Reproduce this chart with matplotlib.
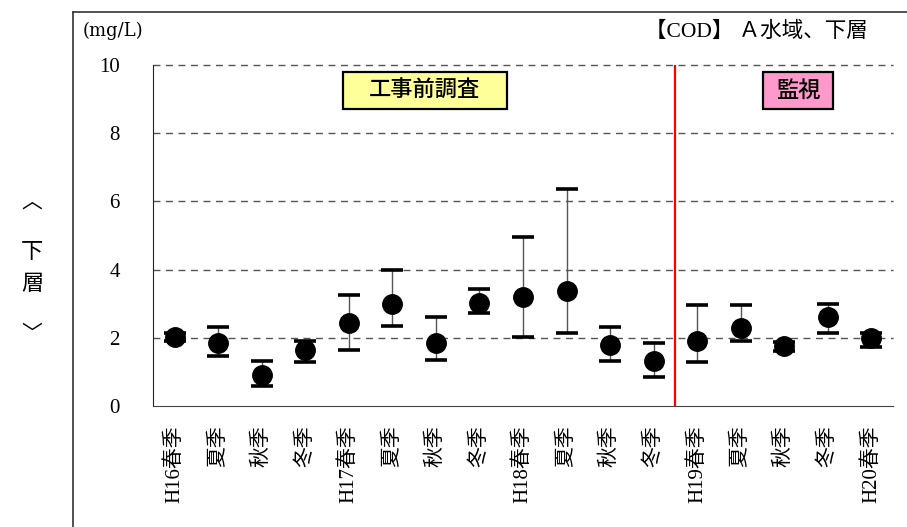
import matplotlib.pyplot as plt
from matplotlib.lines import Line2D
from matplotlib.patches import Rectangle

plt.rcParams['font.family'] = ['Liberation Serif', 'Noto Sans CJK JP', 'DejaVu Sans']

# 調査時期
periods = ['H16春季', '夏季', '秋季', '冬季',
           'H17春季', '夏季', '秋季', '冬季',
           'H18春季', '夏季', '秋季', '冬季',
           'H19春季', '夏季', '秋季', '冬季',
           'H20春季']
# COD 平均値・最大値・最小値 (mg/L)
cod_mean = [2.02, 1.85, 0.91, 1.64, 2.43, 2.99, 1.85, 3.02, 3.20, 3.37,
            1.79, 1.32, 1.91, 2.29, 1.76, 2.61, 1.99]
cod_max = [2.14, 2.32, 1.32, 1.90, 3.26, 3.99, 2.61, 3.43, 4.96, 6.36,
           2.32, 1.85, 2.96, 2.96, 1.88, 2.99, 2.14]
cod_min = [1.90, 1.47, 0.59, 1.29, 1.64, 2.35, 1.35, 2.73, 2.02, 2.14,
           1.32, 0.85, 1.29, 1.91, 1.61, 2.14, 1.73]
y_ticks = [0, 2, 4, 6, 8, 10]
n_pre = 12  # 工事前調査の回数

W, H = 907, 527
fig = plt.figure(figsize=(W / 100, H / 100), dpi=100)
ax = fig.add_axes([153 / W, 1 - 406 / H, 740 / W, 341 / H])

x = list(range(len(periods)))
lower = [m - lo for m, lo in zip(cod_mean, cod_min)]
upper = [hi - m for m, hi in zip(cod_mean, cod_max)]

# ひげ（細線）と上下のキャップ
ax.errorbar(x, cod_mean, yerr=[lower, upper], fmt='none', ecolor='#555555',
            elinewidth=1.0, capsize=0, zorder=3)
ax.plot(x, cod_max, linestyle='none', marker='_', markersize=16,
        markeredgewidth=2.6, color='black', zorder=4)
ax.plot(x, cod_min, linestyle='none', marker='_', markersize=16,
        markeredgewidth=2.6, color='black', zorder=4)
ax.plot(x, cod_mean, linestyle='none', marker='o', markersize=14,
        color='black', zorder=5)

ax.set_xlim(-0.5, len(periods) - 0.5)
ax.set_ylim(0, 10)
ax.set_yticks(y_ticks)
ax.set_yticklabels([str(t) for t in y_ticks], fontsize=15)
ax.set_xticks(x)
ax.set_xticklabels(periods, rotation=90, fontsize=15, va='top', ha='center')
ax.tick_params(axis='y', length=0, pad=24)
ax.tick_params(axis='x', length=0, pad=14)

for t in y_ticks[1:]:
    ax.axhline(t, color='#555555', linestyle=(0, (5, 4)), linewidth=1.0,
               clip_on=False, zorder=1)

for side in ('top', 'right'):
    ax.spines[side].set_visible(False)
ax.spines['left'].set_color('#222222')
ax.spines['bottom'].set_color('#444444')

# 工事前と監視の境界
ax.axvline(n_pre - 0.5, color='red', linewidth=1.6, zorder=2)


def label_box(x0, x1, text, color):
    y0, y1 = 1 - 109 / H, 1 - 72 / H
    fig.add_artist(Rectangle((x0 / W, y0), (x1 - x0) / W, y1 - y0,
                             facecolor=color, edgecolor='black',
                             linewidth=1.6, transform=fig.transFigure))
    fig.text((x0 + x1) / 2 / W, (y0 + y1) / 2, text, fontsize=16,
             family='Noto Sans CJK JP', fontweight='medium',
             ha='center', va='center')


label_box(343, 507, '工事前調査', '#ffff99')
label_box(763, 833, '監視', '#ff99cc')

# 外枠
fig.add_artist(Line2D([73 / W, 1], [1 - 12 / H] * 2, color='#333333',
                      linewidth=1.2, transform=fig.transFigure))
fig.add_artist(Line2D([73 / W] * 2, [0, 1 - 12 / H], color='#333333',
                      linewidth=1.2, transform=fig.transFigure))

fig.text(83 / W, 1 - 31 / H, '(mg/L)', fontsize=13, family='DejaVu Serif',
         va='center', ha='left')
fig.text(868 / W, 1 - 32 / H, '【COD】 Ａ水域、下層', fontsize=15.5,
         va='center', ha='right')

# 縦書きの層ラベル
fig.text(32 / W, 1 - 203 / H, '︿', fontsize=15, ha='center', va='center')
fig.text(32 / W, 1 - 253 / H, '下', fontsize=16, ha='center', va='center')
fig.text(32 / W, 1 - 285 / H, '層', fontsize=16, ha='center', va='center')
fig.text(32 / W, 1 - 335 / H, '﹀', fontsize=15, ha='center', va='center')

fig.savefig('out.png', dpi=100)
